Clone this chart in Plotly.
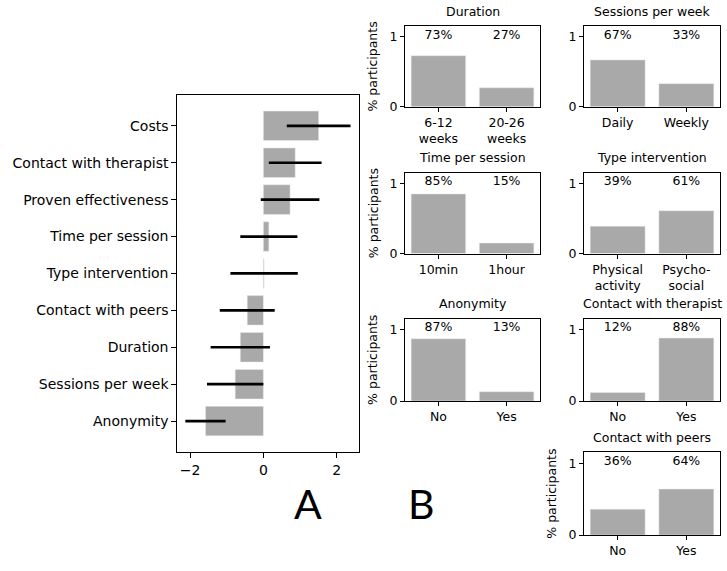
import plotly.graph_objects as go

W, H = 727, 571

# panel A: attribute weights (top to bottom) with their spread
attributes = ['Costs', 'Contact with therapist', 'Proven effectiveness', 'Time per session',
              'Type intervention', 'Contact with peers', 'Duration', 'Sessions per week', 'Anonymity']
weights = [1.51, 0.87, 0.73, 0.15, 0.02, -0.44, -0.63, -0.77, -1.58]
errors = [0.87, 0.72, 0.80, 0.78, 0.92, 0.75, 0.81, 0.77, 0.55]

# panel B: share of participants per level
duration_levels = ['6-12<br>weeks', '20-26<br>weeks']
duration_share = [0.73, 0.27]
sessions_levels = ['Daily', 'Weekly']
sessions_share = [0.67, 0.33]
time_levels = ['10min', '1hour']
time_share = [0.85, 0.15]
type_levels = ['Physical<br>activity', 'Psycho-<br>social']
type_share = [0.39, 0.61]
anonymity_levels = ['No', 'Yes']
anonymity_share = [0.87, 0.13]
therapist_levels = ['No', 'Yes']
therapist_share = [0.12, 0.88]
peers_levels = ['No', 'Yes']
peers_share = [0.36, 0.64]

GREY = '#a9a9a9'
FONT = 'DejaVu Sans'


def fx(p):
    return p / W


def fy(p):
    return 1 - p / H


axis_style = dict(showline=True, linecolor='black', linewidth=1, mirror=True,
                  ticks='outside', ticklen=4, tickcolor='black', showgrid=False,
                  zeroline=False)

fig = go.Figure()

# ---- panel A
fig.add_trace(go.Bar(
    x=weights, y=attributes, orientation='h', width=0.8, marker_color=GREY,
    error_x=dict(type='data', array=errors, width=0, thickness=2.7, color='black'),
    xaxis='x', yaxis='y'))

layout = dict(
    xaxis=dict(domain=[fx(177.3), fx(359.3)], anchor='y', range=[-2.35, 2.62],
               tickvals=[-2, 0, 2], ticklen=5,
               tickfont=dict(family=FONT, size=14, color='black'),
               **{k: v for k, v in axis_style.items() if k != 'ticklen'}),
    yaxis=dict(domain=[fy(457.7), fy(96)], anchor='x', type='category',
               categoryarray=attributes, range=[len(attributes) - 1 + 0.84, -0.84],
               ticklen=5, tickfont=dict(family=FONT, size=14, color='black'),
               **{k: v for k, v in axis_style.items() if k != 'ticklen'}),
)

# ---- panel B
left_col = (405, 540)
right_col = (584, 720)
rows = [(26.7, 108), (175, 256.7), (322.7, 406), (458, 541.7)]

panels = [
    ('Duration', duration_levels, duration_share, left_col, rows[0], True),
    ('Sessions per week', sessions_levels, sessions_share, right_col, rows[0], False),
    ('Time per session', time_levels, time_share, left_col, rows[1], True),
    ('Type intervention', type_levels, type_share, right_col, rows[1], False),
    ('Anonymity', anonymity_levels, anonymity_share, left_col, rows[2], True),
    ('Contact with therapist', therapist_levels, therapist_share, right_col, rows[2], False),
    ('Contact with peers', peers_levels, peers_share, right_col, rows[3], True),
]

annotations = []
small = dict(family=FONT, size=12.5, color='black')

for i, (title, levels, share, col, row, ylab) in enumerate(panels, start=2):
    xa, ya = 'x%d' % i, 'y%d' % i
    fig.add_trace(go.Bar(x=levels, y=share, width=0.8, marker_color=GREY,
                         xaxis=xa, yaxis=ya))
    fig.add_trace(go.Scatter(x=levels, y=[1.02, 1.02], mode='text',
                             text=['%d%%' % round(v * 100) for v in share],
                             textposition='middle center', textfont=small,
                             xaxis=xa, yaxis=ya))
    layout['xaxis%d' % i] = dict(domain=[fx(col[0]), fx(col[1])], anchor=ya,
                                 type='category', range=[-0.49, 1.49],
                                 tickfont=small, **axis_style)
    layout['yaxis%d' % i] = dict(domain=[fy(row[1]), fy(row[0])], anchor=xa,
                                 range=[0, 1.15], tickvals=[0, 1],
                                 tickfont=small, **axis_style)
    annotations.append(dict(text=title, x=fx((col[0] + col[1]) / 2), y=fy(row[0] - 15.5),
                            xref='paper', yref='paper', showarrow=False,
                            xanchor='center', yanchor='middle', font=small))
    if ylab:
        annotations.append(dict(text='% participants', x=fx(col[0] - 32),
                                y=fy((row[0] + row[1]) / 2), xref='paper', yref='paper',
                                showarrow=False, textangle=-90, xanchor='center',
                                yanchor='middle', font=small))

# panel letters
for letter, px in [('A', 308), ('B', 421)]:
    annotations.append(dict(text=letter, x=fx(px), y=fy(510), xref='paper', yref='paper',
                            showarrow=False, xanchor='center', yanchor='middle',
                            font=dict(family='Lato', size=41, color='black')))

fig.update_layout(
    width=W, height=H,
    margin=dict(l=0, r=0, t=0, b=0),
    paper_bgcolor='white', plot_bgcolor='white',
    showlegend=False,
    annotations=annotations,
    **layout
)

# drop the browser's default page margin so the figure sits at 0,0
fig.write_html("out.html", config={'displayModeBar': False},
               post_script="document.body.style.margin='0';document.body.style.overflow='hidden';")
